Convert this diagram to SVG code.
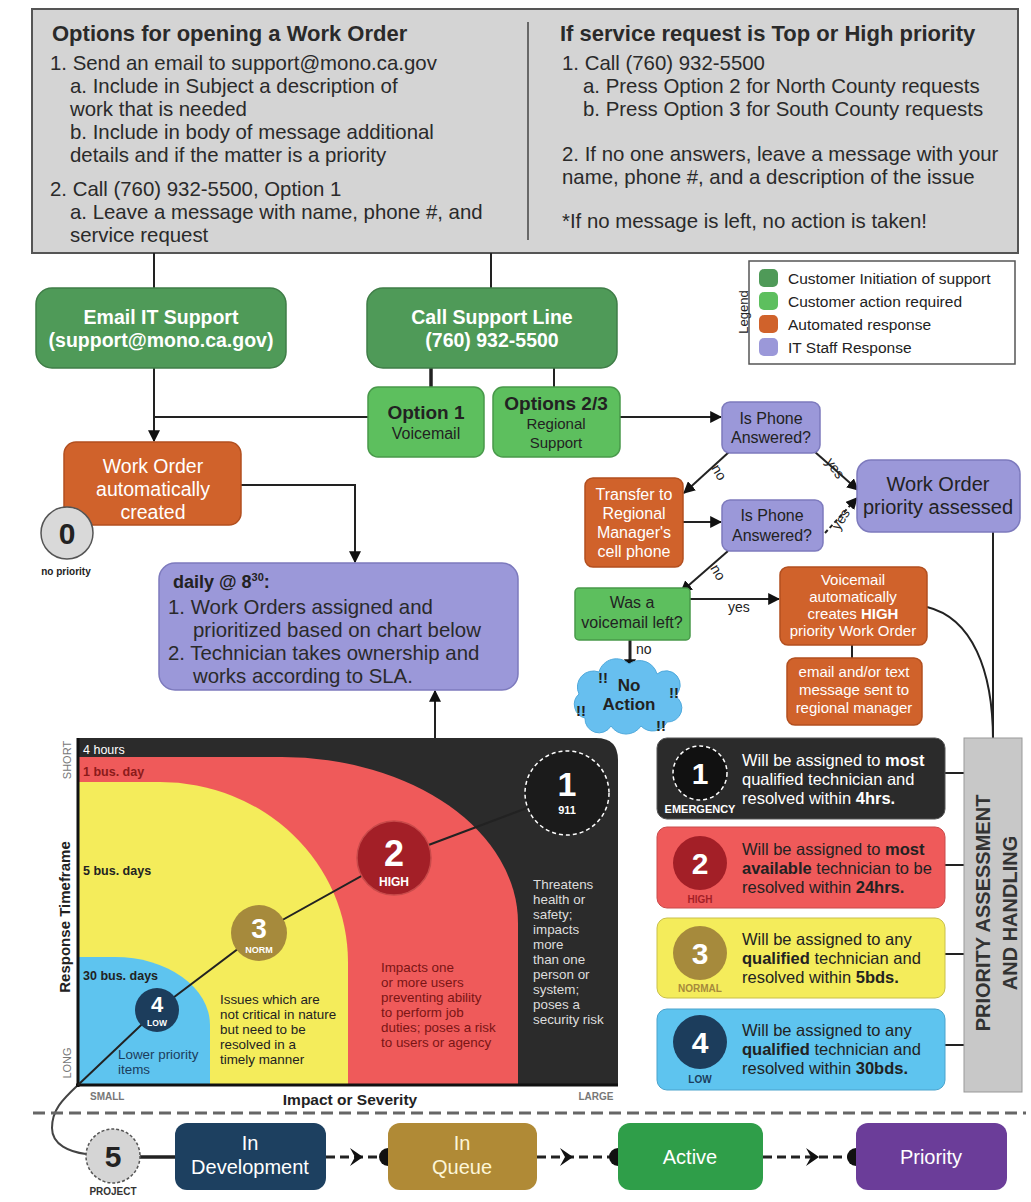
<svg xmlns="http://www.w3.org/2000/svg" width="1031" height="1202" viewBox="0 0 1031 1202">
<style>
text{font-family:'Liberation Sans',Arial,sans-serif;fill:#222}
.b{font-weight:bold}
.w{fill:#fff}
.mid{text-anchor:middle}
.ln{stroke:#222;stroke-width:2;fill:none}
.dk{fill:#4f9a58;stroke:#3f7d47;stroke-width:1.5}
.lg{fill:#5dbf5e;stroke:#48994a;stroke-width:1.5}
.or{fill:#d0622b;stroke:#b24f1f;stroke-width:1.5}
.pu{fill:#9b98d9;stroke:#7d7abd;stroke-width:1.5}
.top{font-size:20.4px;fill:#2a2a2a}
.hd{font-size:22px;font-weight:bold;fill:#2a2a2a}
.sm{font-size:16px}
.xs{font-size:14px}
.vm{font-size:15px}
.ch{font-size:13.4px}
.pt{font-size:16.5px}
</style>
<defs>
<marker id="ah" viewBox="0 0 10 10" refX="9" refY="5" markerWidth="12" markerHeight="12" markerUnits="userSpaceOnUse" orient="auto"><path d="M0,0 L10,5 L0,10 z" fill="#111"/></marker>
</defs>
<rect width="1031" height="1202" fill="#fff"/>

<g id="instructions">
<rect x="32" y="9" width="986" height="244" fill="#d4d4d4" stroke="#555" stroke-width="2"/>
<line x1="528" y1="22" x2="528" y2="240" stroke="#444" stroke-width="1.5"/>
<text x="52" y="41" class="hd">Options for opening a Work Order</text>
<text class="top" x="50" y="70">1. Send an email to support@mono.ca.gov</text>
<text class="top" x="70" y="93">a. Include in Subject a description of</text>
<text class="top" x="70" y="116">work that is needed</text>
<text class="top" x="70" y="139">b. Include in body of message additional</text>
<text class="top" x="70" y="162">details and if the matter is a priority</text>
<text class="top" x="50" y="196">2. Call (760) 932-5500, Option 1</text>
<text class="top" x="70" y="219">a. Leave a message with name, phone #, and</text>
<text class="top" x="70" y="242">service request</text>
<text x="560" y="41" class="hd">If service request is Top or High priority</text>
<text class="top" x="562" y="70">1. Call (760) 932-5500</text>
<text class="top" x="583" y="93">a. Press Option 2 for North County requests</text>
<text class="top" x="583" y="116">b. Press Option 3 for South County requests</text>
<text class="top" x="562" y="161">2. If no one answers, leave a message with your</text>
<text class="top" x="562" y="184">name, phone #, and a description of the issue</text>
<text class="top" x="562" y="228">*If no message is left, no action is taken!</text>
</g>

<g id="legend">
<rect x="749" y="261" width="266" height="103" fill="#fff" stroke="#555" stroke-width="1.5"/>
<text transform="translate(748,312) rotate(-90)" class="mid" font-size="13">Legend</text>
<rect x="759" y="269" width="19" height="18" rx="5" fill="#4f9a58"/>
<rect x="759" y="292" width="19" height="18" rx="5" fill="#5dbf5e"/>
<rect x="759" y="315" width="19" height="18" rx="5" fill="#d0622b"/>
<rect x="759" y="338" width="19" height="18" rx="5" fill="#9b98d9"/>
<text x="788" y="284" font-size="15.5">Customer Initiation of support</text>
<text x="788" y="307" font-size="15.5">Customer action required</text>
<text x="788" y="330" font-size="15.5">Automated response</text>
<text x="788" y="353" font-size="15.5">IT Staff Response</text>
</g>

<g id="connectors">
<line class="ln" x1="154" y1="253" x2="154" y2="288"/>
<line class="ln" x1="491" y1="253" x2="491" y2="288"/>
<line class="ln" x1="154" y1="368" x2="154" y2="441" marker-end="url(#ah)"/>
<line class="ln" x1="154" y1="417" x2="368" y2="417"/>
<line x1="431" y1="368" x2="431" y2="387" stroke="#222" stroke-width="3.5"/>
<line class="ln" x1="554" y1="368" x2="554" y2="387"/>
<polyline class="ln" points="241,485 355,485 355,562" marker-end="url(#ah)"/>
<line class="ln" x1="435" y1="738" x2="435" y2="691" marker-end="url(#ah)"/>
<line class="ln" x1="620" y1="417" x2="721" y2="417" marker-end="url(#ah)"/>
<line class="ln" x1="683" y1="522" x2="721" y2="522" marker-end="url(#ah)"/>
<line class="ln" x1="729" y1="452" x2="684" y2="493" marker-end="url(#ah)"/>
<line class="ln" x1="815" y1="452" x2="858" y2="490" marker-end="url(#ah)"/>
<line class="ln" x1="825" y1="533" x2="857" y2="498" stroke-dasharray="4 3" marker-end="url(#ah)"/>
<line class="ln" x1="728" y1="551" x2="681" y2="592" marker-end="url(#ah)"/>
<line class="ln" x1="690" y1="599" x2="779" y2="599" marker-end="url(#ah)"/>
<line x1="630" y1="640" x2="630" y2="670" stroke="#222" stroke-width="3" marker-end="url(#ah)"/>
<line class="ln" x1="852" y1="645" x2="852" y2="658"/>
<path class="ln" d="M927,607 C972,618 993,670 993,740"/>
<line class="ln" x1="993" y1="532" x2="993" y2="752" marker-end="url(#ah)"/>
<line class="ln" x1="945" y1="773" x2="964" y2="773"/>
<line class="ln" x1="945" y1="865" x2="964" y2="865"/>
<line class="ln" x1="945" y1="954" x2="964" y2="954"/>
<line class="ln" x1="945" y1="1045" x2="964" y2="1045"/>
<path d="M78,1085 C62,1100 52,1110 52,1128 C52,1145 70,1152 86,1154" fill="none" stroke="#444" stroke-width="2"/>
<line x1="140" y1="1157" x2="175" y2="1157" stroke="#222" stroke-width="3.5"/>
<g stroke="#222" stroke-width="3" stroke-dasharray="9 5">
<line x1="326" y1="1157" x2="388" y2="1157"/>
<line x1="537" y1="1157" x2="618" y2="1157"/>
<line x1="763" y1="1157" x2="856" y2="1157"/>
</g>
<g fill="#111">
<path d="M350,1148 L363,1157 L350,1166 L355,1157 z"/>
<path d="M560,1148 L573,1157 L560,1166 L565,1157 z"/>
<path d="M806,1148 L819,1157 L806,1166 L811,1157 z"/>
<circle cx="388" cy="1157" r="9"/>
<circle cx="618" cy="1157" r="9"/>
<circle cx="856" cy="1157" r="9"/>
</g>
<text x="0" y="0" class="xs" transform="translate(711,468) rotate(60)">no</text>
<text x="0" y="0" class="xs" transform="translate(825,462) rotate(55)">yes</text>
<text x="0" y="0" class="xs" transform="translate(839,531) rotate(-58)">yes</text>
<text x="0" y="0" class="xs" transform="translate(710,568) rotate(60)">no</text>
<text x="728" y="612" class="xs">yes</text>
<text x="636" y="654" class="xs">no</text>
</g>

<g id="email-node">
<rect x="36" y="288" width="250" height="80" rx="16" class="dk"/>
<text x="161" y="324" class="b w mid" font-size="19.5">Email IT Support</text>
<text x="161" y="347" class="b w mid" font-size="19.5">(support@mono.ca.gov)</text>
</g>
<g id="call-node">
<rect x="367" y="288" width="250" height="80" rx="16" class="dk"/>
<text x="492" y="324" class="b w mid" font-size="19.5">Call Support Line</text>
<text x="492" y="347" class="b w mid" font-size="19.5">(760) 932-5500</text>
</g>
<g id="option1">
<rect x="368" y="387" width="116" height="70" rx="10" class="lg"/>
<text x="426" y="419" class="b mid" font-size="19">Option 1</text>
<text x="426" y="439" class="mid" font-size="16">Voicemail</text>
</g>
<g id="option23">
<rect x="493" y="387" width="127" height="70" rx="10" class="lg"/>
<text x="556" y="410" class="b mid" font-size="19">Options 2/3</text>
<text x="556" y="429" class="mid" font-size="15">Regional</text>
<text x="556" y="448" class="mid" font-size="15">Support</text>
</g>
<g id="auto-wo">
<rect x="64" y="442" width="177" height="83" rx="12" class="or"/>
<text x="153" y="473" class="w mid" font-size="19.5">Work Order</text>
<text x="153" y="496" class="w mid" font-size="19.5">automatically</text>
<text x="153" y="519" class="w mid" font-size="19.5">created</text>
</g>
<g id="p0">
<circle cx="67" cy="533" r="26" fill="#d9d9d9" stroke="#555" stroke-width="1.5"/>
<text x="67" y="544" class="b mid" font-size="30">0</text>
<text x="66" y="575" class="b mid" font-size="10">no priority</text>
</g>
<g id="daily">
<rect x="159" y="563" width="359" height="127" rx="16" class="pu"/>
<text x="173" y="588" class="b" font-size="18">daily @ 8<tspan font-size="11" dy="-7">30</tspan><tspan dy="7">:</tspan></text>
<text x="168" y="614" class="top">1. Work Orders assigned and</text>
<text x="193" y="637" class="top">prioritized based on chart below</text>
<text x="168" y="660" class="top">2. Technician takes ownership and</text>
<text x="193" y="683" class="top">works according to SLA.</text>
</g>
<g id="phone1">
<rect x="722" y="402" width="98" height="51" rx="8" class="pu"/>
<text x="771" y="424" class="mid sm">Is Phone</text>
<text x="771" y="443" class="mid sm">Answered?</text>
</g>
<g id="transfer">
<rect x="585" y="478" width="98" height="89" rx="8" class="or"/>
<text x="634" y="500" class="w mid sm">Transfer to</text>
<text x="634" y="519" class="w mid sm">Regional</text>
<text x="634" y="538" class="w mid sm">Manager's</text>
<text x="634" y="557" class="w mid sm">cell phone</text>
</g>
<g id="phone2">
<rect x="722" y="500" width="101" height="51" rx="8" class="pu"/>
<text x="772" y="521" class="mid sm">Is Phone</text>
<text x="772" y="541" class="mid sm">Answered?</text>
</g>
<g id="assessed">
<rect x="857" y="460" width="163" height="72" rx="14" class="pu"/>
<text x="938" y="491" class="mid" font-size="20">Work Order</text>
<text x="938" y="514" class="mid" font-size="20">priority assessed</text>
</g>
<g id="voicemail-left">
<rect x="575" y="588" width="115" height="52" rx="4" class="lg"/>
<text x="632" y="608" class="mid" font-size="16">Was a</text>
<text x="632" y="628" class="mid" font-size="16">voicemail left?</text>
</g>
<g id="voicemail-auto">
<rect x="780" y="567" width="147" height="78" rx="8" class="or"/>
<text x="853" y="585" class="w mid vm">Voicemail</text>
<text x="853" y="602" class="w mid vm">automatically</text>
<text x="853" y="619" class="w mid vm">creates <tspan class="b w">HIGH</tspan></text>
<text x="853" y="636" class="w mid vm">priority Work Order</text>
</g>
<g id="notify">
<rect x="787" y="658" width="135" height="67" rx="8" class="or"/>
<text x="854" y="677" class="w mid vm">email and/or text</text>
<text x="854" y="695" class="w mid vm">message sent to</text>
<text x="854" y="713" class="w mid vm">regional manager</text>
</g>
<g id="no-action">
<path d="M585,718 a14,14 0 0,1 -6,-24 a16,16 0 0,1 20,-22 a18,18 0 0,1 30,-8 a18,18 0 0,1 28,10 a14,14 0 0,1 18,22 a14,14 0 0,1 -8,26 a16,16 0 0,1 -26,4 a18,18 0 0,1 -30,0 a14,14 0 0,1 -26,-8 z" fill="#67bfef" stroke="#4fa9dc" stroke-width="1"/>
<text x="629" y="691" class="b mid" font-size="17">No</text>
<text x="629" y="710" class="b mid" font-size="17">Action</text>
<text x="603" y="683" class="b mid" font-size="15">!!</text>
<text x="674" y="698" class="b mid" font-size="15">!!</text>
<text x="581" y="716" class="b mid" font-size="15">!!</text>
<text x="661" y="731" class="b mid" font-size="15">!!</text>
</g>

<g id="chart">
<path d="M78,738 H596 Q618,738 618,760 V1085 H78 Z" fill="#2b2b2b"/>
<path d="M78,757 H282 A236,166 0 0,1 518,923 V1085 H78 Z" fill="#ef5a5a"/>
<path d="M78,782 H160 A188,180 0 0,1 348,962 V1085 H78 Z" fill="#f4ec5b"/>
<path d="M78,957 H115 A95,68 0 0,1 210,1025 V1085 H78 Z" fill="#5ec4ef"/>
<line x1="78" y1="738" x2="78" y2="1087" stroke="#111" stroke-width="3"/>
<line x1="76" y1="1085" x2="618" y2="1085" stroke="#111" stroke-width="3"/>
<text transform="translate(71,760) rotate(-90)" class="mid" font-size="11" style="fill:#777">SHORT</text>
<text transform="translate(71,1063) rotate(-90)" class="mid" font-size="11" style="fill:#777">LONG</text>
<text transform="translate(70,917) rotate(-90)" class="b mid" font-size="15">Response Timeframe</text>
<text x="83" y="754" class="w" font-size="12.5">4 hours</text>
<text x="83" y="776" class="b" font-size="12.5" style="fill:#8b1a1a">1 bus. day</text>
<text x="83" y="875" class="b" font-size="12.5">5 bus. days</text>
<text x="83" y="980" class="b" font-size="12.5">30 bus. days</text>
<polyline class="ln" points="78,1085 157,1010 259,933 394,858 567,793"/>
<circle cx="157" cy="1010" r="22" fill="#1c3d5c"/>
<text x="157" y="1012" class="b w mid" font-size="22">4</text>
<text x="157" y="1026" class="b w mid" font-size="8.5">LOW</text>
<circle cx="259" cy="933" r="28" fill="#a68a3c"/>
<text x="259" y="938" class="b w mid" font-size="28">3</text>
<text x="259" y="953" class="b w mid" font-size="9">NORM</text>
<circle cx="394" cy="858" r="37" fill="#a31f27" stroke="#c94a4a" stroke-width="1.5"/>
<text x="394" y="866" class="b w mid" font-size="36">2</text>
<text x="394" y="886" class="b w mid" font-size="12">HIGH</text>
<circle cx="567" cy="793" r="42" fill="#1b1b1b" stroke="#fff" stroke-width="1.5" stroke-dasharray="4 3"/>
<text x="567" y="796" class="b w mid" font-size="34">1</text>
<text x="567" y="814" class="b w mid" font-size="11">911</text>
<text x="118" y="1059" class="ch" style="fill:#1c3d5c">Lower priority</text>
<text x="118" y="1074" class="ch" style="fill:#1c3d5c">items</text>
<text x="220" y="1004" class="ch">Issues which are</text>
<text x="220" y="1019" class="ch">not critical in nature</text>
<text x="220" y="1034" class="ch">but need to be</text>
<text x="220" y="1049" class="ch">resolved in a</text>
<text x="220" y="1064" class="ch">timely manner</text>
<text x="381" y="972" class="ch" style="fill:#7a1515">Impacts one</text>
<text x="381" y="987" class="ch" style="fill:#7a1515">or more users</text>
<text x="381" y="1002" class="ch" style="fill:#7a1515">preventing ability</text>
<text x="381" y="1017" class="ch" style="fill:#7a1515">to perform job</text>
<text x="381" y="1032" class="ch" style="fill:#7a1515">duties; poses a risk</text>
<text x="381" y="1047" class="ch" style="fill:#7a1515">to users or agency</text>
<text x="533" y="889" class="ch" style="fill:#ddd">Threatens</text>
<text x="533" y="904" class="ch" style="fill:#ddd">health or</text>
<text x="533" y="919" class="ch" style="fill:#ddd">safety;</text>
<text x="533" y="934" class="ch" style="fill:#ddd">impacts</text>
<text x="533" y="949" class="ch" style="fill:#ddd">more</text>
<text x="533" y="964" class="ch" style="fill:#ddd">than one</text>
<text x="533" y="979" class="ch" style="fill:#ddd">person or</text>
<text x="533" y="994" class="ch" style="fill:#ddd">system;</text>
<text x="533" y="1009" class="ch" style="fill:#ddd">poses a</text>
<text x="533" y="1024" class="ch" style="fill:#ddd">security risk</text>
<text x="90" y="1100" class="b" font-size="10" style="fill:#777">SMALL</text>
<text x="596" y="1100" class="b mid" font-size="10" style="fill:#777">LARGE</text>
<text x="350" y="1105" class="b mid" font-size="15.5">Impact or Severity</text>
</g>

<g id="priority1">
<rect x="657" y="738" width="288" height="81" rx="10" fill="#2b2b2b" stroke="#555"/>
<circle cx="700" cy="773" r="27" fill="#111" stroke="#fff" stroke-width="1.5" stroke-dasharray="4 3"/>
<text x="700" y="784" class="b w mid" font-size="30">1</text>
<text x="700" y="813" class="b w mid" font-size="11">EMERGENCY</text>
<text x="742" y="766" class="w pt">Will be assigned to <tspan class="b w">most</tspan></text>
<text x="742" y="785" class="w pt">qualified technician and</text>
<text x="742" y="804" class="w pt">resolved within <tspan class="b w">4hrs.</tspan></text>
</g>
<g id="priority2">
<rect x="657" y="827" width="288" height="81" rx="10" fill="#ef5a5a" stroke="#c94a4a"/>
<circle cx="700" cy="863" r="27" fill="#a31f27"/>
<text x="700" y="874" class="b w mid" font-size="30">2</text>
<text x="700" y="903" class="b mid" font-size="10" style="fill:#a31f27">HIGH</text>
<text x="742" y="855" class="pt">Will be assigned to <tspan class="b">most</tspan></text>
<text x="742" y="874" class="pt"><tspan class="b">available</tspan> technician to be</text>
<text x="742" y="893" class="pt">resolved within <tspan class="b">24hrs.</tspan></text>
</g>
<g id="priority3">
<rect x="657" y="918" width="288" height="80" rx="10" fill="#f4ec5b" stroke="#c9c04a"/>
<circle cx="700" cy="953" r="27" fill="#a68a3c"/>
<text x="700" y="964" class="b w mid" font-size="30">3</text>
<text x="700" y="992" class="b mid" font-size="10" style="fill:#a68a3c">NORMAL</text>
<text x="742" y="945" class="pt">Will be assigned to any</text>
<text x="742" y="964" class="pt"><tspan class="b">qualified</tspan> technician and</text>
<text x="742" y="983" class="pt">resolved within <tspan class="b">5bds.</tspan></text>
</g>
<g id="priority4">
<rect x="657" y="1009" width="288" height="81" rx="10" fill="#5ec4ef" stroke="#4aa3cc"/>
<circle cx="700" cy="1042" r="27" fill="#1c3d5c"/>
<text x="700" y="1053" class="b w mid" font-size="30">4</text>
<text x="700" y="1083" class="b mid" font-size="10" style="fill:#1c3d5c">LOW</text>
<text x="742" y="1036" class="pt">Will be assigned to any</text>
<text x="742" y="1055" class="pt"><tspan class="b">qualified</tspan> technician and</text>
<text x="742" y="1074" class="pt">resolved within <tspan class="b">30bds.</tspan></text>
</g>
<g id="priority-handling">
<rect x="964" y="738" width="58" height="354" fill="#c8c8c8" stroke="#999"/>
<text transform="translate(990,913) rotate(-90)" class="b mid" font-size="20" style="fill:#333">PRIORITY ASSESSMENT</text>
<text transform="translate(1017,913) rotate(-90)" class="b mid" font-size="20" style="fill:#333">AND HANDLING</text>
</g>

<line x1="33" y1="1113" x2="1026" y2="1113" stroke="#666" stroke-width="3" stroke-dasharray="12 6"/>

<g id="p5">
<circle cx="113" cy="1156" r="27" fill="#d5d5d5" stroke="#555" stroke-width="1.5" stroke-dasharray="3 2"/>
<text x="113" y="1167" class="b mid" font-size="30">5</text>
<text x="113" y="1195" class="b mid" font-size="10" style="fill:#333">PROJECT</text>
</g>
<g id="in-development">
<rect x="175" y="1123" width="151" height="67" rx="12" fill="#1d4060"/>
<text x="250" y="1150" class="w mid" font-size="20">In</text>
<text x="250" y="1174" class="w mid" font-size="20">Development</text>
</g>
<g id="in-queue">
<rect x="388" y="1123" width="149" height="67" rx="12" fill="#b08a36"/>
<text x="462" y="1150" class="mid" font-size="20" style="fill:#fdf6d8">In</text>
<text x="462" y="1174" class="mid" font-size="20" style="fill:#fdf6d8">Queue</text>
</g>
<g id="active">
<rect x="618" y="1123" width="145" height="67" rx="12" fill="#2f9e49"/>
<text x="690" y="1164" class="w mid" font-size="20">Active</text>
</g>
<g id="priority">
<rect x="856" y="1123" width="151" height="67" rx="12" fill="#6b3d99"/>
<text x="931" y="1164" class="w mid" font-size="20">Priority</text>
</g>
</svg>
